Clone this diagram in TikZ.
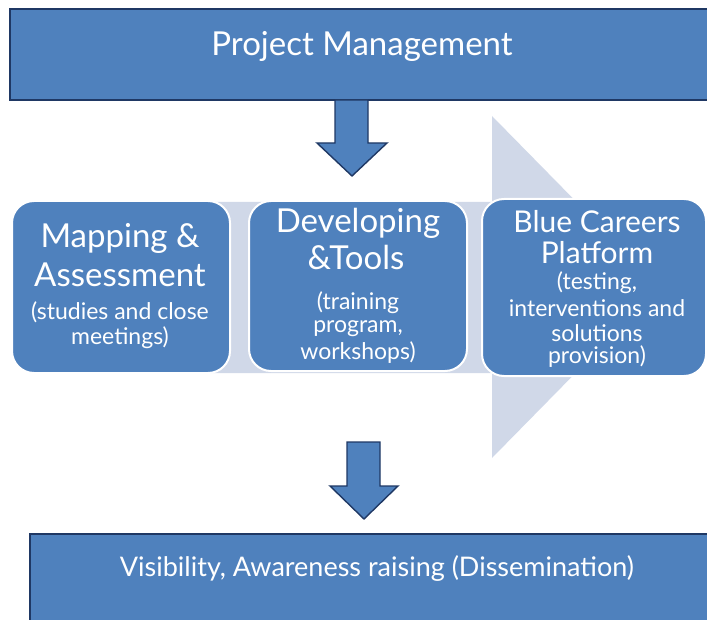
\documentclass[tikz,border=0pt]{standalone}
\usepackage{fontspec}
\setmainfont{Lato}
\definecolor{boxblue}{HTML}{4F81BD}
\definecolor{navy}{HTML}{1F3864}
\definecolor{paleblue}{HTML}{D0D8E8}
\tikzset{
  x=1pt, y=-1pt,
  bandbox/.style={fill=boxblue, draw=navy, line width=1.6pt},
  stagebox/.style={fill=boxblue, draw=white, line width=2pt, rounded corners=22pt,
    inner sep=0pt},
  label/.style={text=white, align=center, inner sep=0pt},
  downarrow/.style={fill=boxblue, draw=navy, line width=1.4pt, line join=miter},
  bigtitle/.style={label, font=\fontsize{33}{37}\selectfont},
  subtitle/.style={label, font=\fontsize{23}{26}\selectfont}
}
\begin{document}
\begin{tikzpicture}
\useasboundingbox (0,0) rectangle (707,620);
\clip (0,0) rectangle (707,620);

% top band
\draw[bandbox] (10,9) rectangle (720,100);
\node[label, font=\fontsize{33}{36}\selectfont] (pm) at (362,46) {Project Management};

% first down arrow
\draw[downarrow] (335,100) -- (368,100) -- (368,143) -- (387,143) -- (352,176)
  -- (317,143) -- (335,143) -- cycle;

% pale process arrow behind the stages
\fill[paleblue] (60,202) -- (492,202) -- (492,116) -- (660,287) -- (492,458)
  -- (492,373) -- (60,373) -- cycle;

% stage boxes
\node[stagebox, minimum width=218pt, minimum height=172pt] (map) at (121,287) {};
\node[stagebox, minimum width=218pt, minimum height=170pt] (dev) at (358,286) {};
\node[stagebox, minimum width=224pt, minimum height=177pt] (blue) at (594,287.5) {};

% stage texts, one node per line
\node[bigtitle] (map1) at (120,238) {Mapping \&};
\node[bigtitle] (map2) at (120,275) {Assessment};
\node[subtitle] (map3) at (120,312) {(studies and close};
\node[subtitle] (map4) at (120,338) {meetings)};

\node[bigtitle] (dev1) at (358,223) {Developing};
\node[bigtitle] (dev2) at (356,257) {\&Tools};
\node[subtitle] (dev3) at (358,303) {(training};
\node[subtitle] (dev4) at (358,329) {program,};
\node[subtitle] (dev5) at (358,353) {workshops)};

\node[label, font=\fontsize{30}{33}\selectfont] (blue1) at (597,222) {Blue Careers};
\node[label, font=\fontsize{30}{33}\selectfont] (blue2) at (597,253) {Platform};
\node[subtitle] (blue3) at (597,283) {(testing,};
\node[subtitle] (blue4) at (597,308) {interventions and};
\node[subtitle] (blue5) at (597,333) {solutions};
\node[subtitle] (blue6) at (597,357) {provision)};

% second down arrow
\draw[downarrow] (347,442) -- (380,442) -- (380,486) -- (398,486) -- (364,519)
  -- (330,486) -- (347,486) -- cycle;

% bottom band
\draw[bandbox] (30,534) rectangle (720,640);
\node[label, font=\fontsize{27}{30}\selectfont] (vis) at (377,568) {Visibility, Awareness raising (Dissemination)};
\end{tikzpicture}
\end{document}
